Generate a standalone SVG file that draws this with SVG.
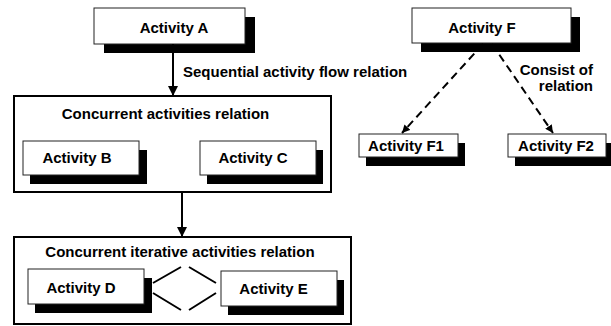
<svg xmlns="http://www.w3.org/2000/svg" width="611" height="326" viewBox="0 0 611 326">
<defs>
<style>
text{font-family:"Liberation Sans",Arial,sans-serif;font-weight:bold;font-size:15px;fill:#000}
.c{text-anchor:middle}
.box{fill:#fff;stroke:#222;stroke-width:1}
.sh{fill:#000}
.frame{fill:#fff;stroke:#000;stroke-width:2}
.ln{stroke:#000;stroke-width:2;fill:none}
.dash{stroke:#000;stroke-width:2;fill:none;stroke-dasharray:8,5}
</style>
<marker id="ah" viewBox="0 0 10 10" refX="10" refY="5" markerWidth="5" markerHeight="5" orient="auto" markerUnits="strokeWidth"><path d="M0,0 L10,5 L0,10 z" fill="#000"/></marker>
<marker id="ad" viewBox="0 0 10 10" refX="10" refY="5" markerWidth="4" markerHeight="4" orient="auto" markerUnits="strokeWidth"><path d="M0,0 L10,5 L0,10 z" fill="#000"/></marker>
</defs>
<rect width="611" height="326" fill="#fff"/>

<g id="frame-concurrent">
<rect class="frame" x="14" y="96" width="317" height="96"/>
<text class="c" x="165.5" y="119">Concurrent activities relation</text>
</g>
<g id="frame-iterative">
<rect class="frame" x="14" y="237" width="337" height="87"/>
<text class="c" x="180" y="257">Concurrent iterative activities relation</text>
</g>

<g id="activity-a">
<rect class="sh" x="104" y="17" width="151" height="36"/>
<rect class="box" x="94" y="8" width="151" height="36"/>
<text class="c" x="174" y="33">Activity A</text>
</g>
<g id="activity-f">
<rect class="sh" x="421" y="17" width="159" height="35"/>
<rect class="box" x="412" y="8" width="159" height="35"/>
<text class="c" x="482" y="33">Activity F</text>
</g>
<g id="activity-f1">
<rect class="sh" x="366" y="143" width="99" height="23"/>
<rect class="box" x="359" y="134" width="99" height="23"/>
<text class="c" x="406" y="151">Activity F1</text>
</g>
<g id="activity-f2">
<rect class="sh" x="515" y="143" width="98" height="23"/>
<rect class="box" x="508" y="134" width="98" height="23"/>
<text class="c" x="556" y="151">Activity F2</text>
</g>
<g id="activity-b">
<rect class="sh" x="30" y="150" width="117" height="34"/>
<rect class="box" x="23" y="141" width="116" height="34"/>
<text class="c" x="77" y="163">Activity B</text>
</g>
<g id="activity-c">
<rect class="sh" x="207" y="150" width="116" height="34"/>
<rect class="box" x="200" y="141" width="116" height="34"/>
<text class="c" x="253" y="163">Activity C</text>
</g>
<g id="activity-d">
<rect class="sh" x="35" y="278" width="117" height="35"/>
<rect class="box" x="28" y="269" width="116" height="35"/>
<text class="c" x="81" y="293">Activity D</text>
</g>
<g id="activity-e">
<rect class="sh" x="228" y="280" width="116" height="35"/>
<rect class="box" x="221" y="271" width="116" height="35"/>
<text class="c" x="273.5" y="294">Activity E</text>
</g>

<g id="connectors">
<line class="ln" x1="173" y1="44" x2="173" y2="96" marker-end="url(#ah)"/>
<line class="ln" x1="182" y1="193" x2="182" y2="237" marker-end="url(#ah)"/>
<line class="dash" x1="483" y1="44" x2="402" y2="133" marker-end="url(#ad)"/>
<line class="dash" x1="492" y1="44" x2="553" y2="133" marker-end="url(#ad)"/>
<path class="ln" d="M153,283 L181,267 M189,267 L216,283 M153,293 L181,310 M189,310 L216,293" stroke-width="1.8"/>
</g>

<g id="labels">
<text x="183" y="77">Sequential activity flow relation</text>
<text x="593" y="75" text-anchor="end">Consist of</text>
<text x="593" y="91" text-anchor="end">relation</text>
</g>
</svg>
